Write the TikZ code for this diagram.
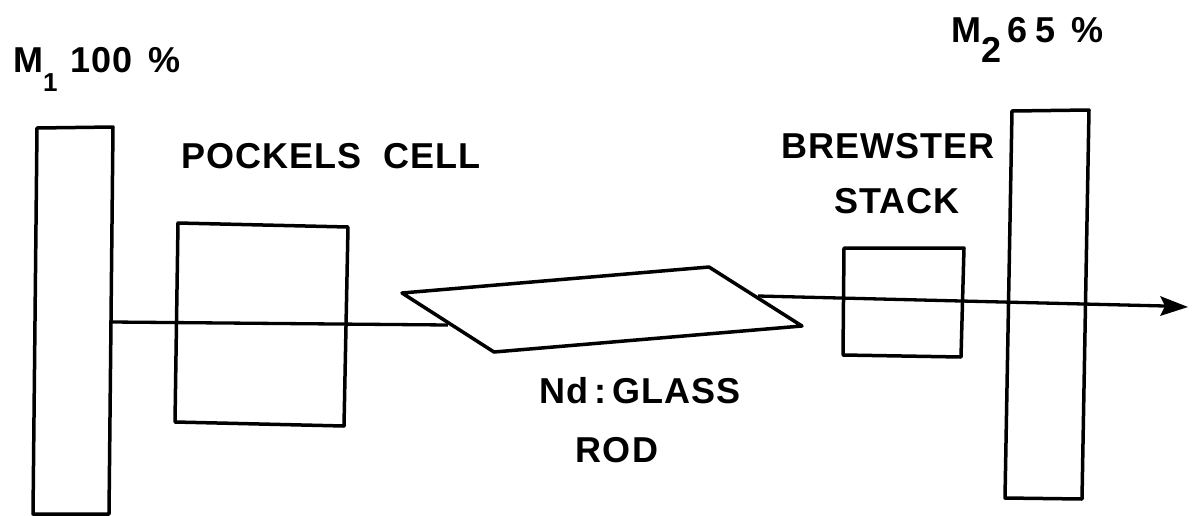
\documentclass[tikz,border=0pt]{standalone}
\usepackage{fontspec}
\setmainfont{Liberation Sans}[LetterSpace=3]
\begin{document}
\begin{tikzpicture}[x=1pt,y=-1pt,
  part/.style={draw=black,line width=3.5pt,line join=round},
  beam/.style={draw=black,line width=3.3pt},
  lab/.style={inner sep=0pt,font=\fontsize{36}{36}\selectfont\bfseries,text=black}]
\useasboundingbox (0,0) rectangle (1195,515);
\fill[white] (0,0) rectangle (1195,515);
\coordinate (m1a) at (112,322);
\coordinate (r1) at (448,325);
\coordinate (r2) at (758,296);
\coordinate (tipend) at (1188,307);
\coordinate (tailend) at (1165,306);
\draw[beam] (m1a) -- (r1);
\draw[beam] (r2) -- (tailend);
\fill (tipend) -- (1160,296) -- (tailend) -- (1160,316) -- cycle;
\draw[part] (37,128) -- (113,127) -- (109,514) -- (33,514) -- cycle;
\draw[part] (178,223) -- (348,227) -- (344,426) -- (175,422) -- cycle;
\draw[part] (402,293) -- (709,267) -- (802,326) -- (494,352) -- cycle;
\draw[part] (844,248) -- (964,248) -- (961,357) -- (843,355) -- cycle;
\draw[part] (1012,111) -- (1089,110) -- (1082,499) -- (1005,498) -- cycle;
\node[lab,anchor=base west] (lm1) at (13,72) {M\raisebox{-19pt}{\fontsize{26}{26}\selectfont 1}\hspace{13pt}100\hspace{16pt}\%};
\node[lab,anchor=base west] (lm2) at (951,42) {M\raisebox{-20pt}{2}\hspace{6pt}6\hspace{8pt}5\hspace{16pt}\%};
\node[lab,anchor=base] (lpc) at (331,168) {POCKELS\ \ CELL};
\node[lab,anchor=base] (lbs1) at (888,158) {BREWSTER};
\node[lab,anchor=base] (lbs2) at (897,213) {STACK};
\node[lab,anchor=base] (lnd) at (640,403) {Nd\,:\,GLASS};
\node[lab,anchor=base] (lrod) at (617,462) {ROD};
\end{tikzpicture}
\end{document}
